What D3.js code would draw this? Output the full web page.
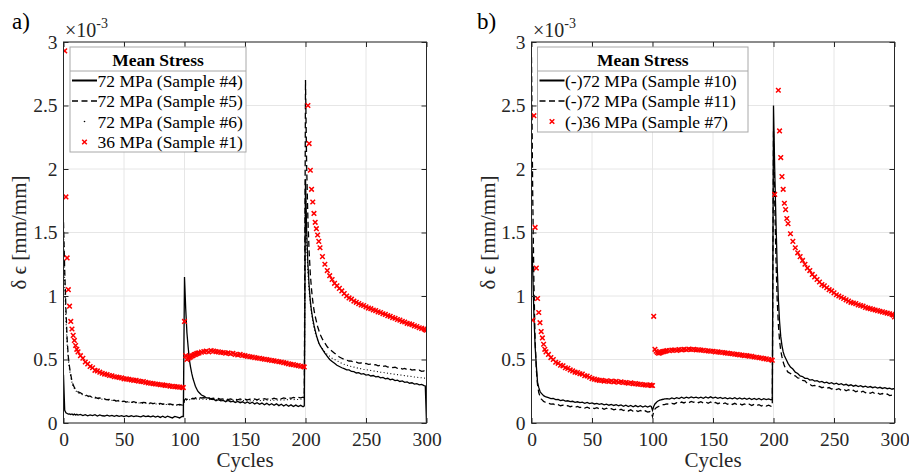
<!DOCTYPE html>
<html>
<head>
<meta charset="utf-8">
<script src="https://cdn.jsdelivr.net/npm/d3@7"></script>
<style>
  body { margin: 0; background: #fff; }
  svg { display: block; }
  text { font-family: "Liberation Serif", "Times New Roman", "DejaVu Serif", serif; }
</style>
</head>
<body>
<script>
// cycle index shared by every series (dense near the jumps, every 2nd cycle elsewhere)
var cycles = [
  0,1,2,3,4,5,6,7,8,9,10,11,12,
  14,16,18,20,22,24,26,28,30,32,
  34,36,38,40,42,44,46,48,50,52,
  54,56,58,60,62,64,66,68,70,72,
  74,76,78,80,82,84,86,88,90,92,
  94,96,98,99,
  100,101,102,103,104,105,106,107,108,109,110,111,112,
  114,116,118,120,122,124,126,128,130,132,
  134,136,138,140,142,144,146,148,150,152,
  154,156,158,160,162,164,166,168,170,172,
  174,176,178,180,182,184,186,188,190,192,
  194,196,198,199,
  200,201,202,203,204,205,206,207,208,209,210,211,212,
  214,216,218,220,222,224,226,228,230,232,
  234,236,238,240,242,244,246,248,250,252,
  254,256,258,260,262,264,266,268,270,272,
  274,276,278,280,282,284,286,288,290,292,
  294,296,298,299,300
];

var xTicks = [0, 50, 100, 150, 200, 250, 300];
var yTicks = [0, 0.5, 1, 1.5, 2, 2.5, 3];
var yTickLabels = ['0', '0.5', '1', '1.5', '2', '2.5', '3'];

// panel a) values in units of 1e-3 mm/mm
var a_s4 = [
  0.38,0.10,0.08,0.075,0.07,0.072,0.066,0.071,0.064,0.07,0.063,0.068,0.062,
  0.067,0.058,0.066,0.057,0.064,0.058,0.065,0.055,0.063,0.057,
  0.055,0.062,0.054,0.06,0.052,0.059,0.053,0.058,0.05,0.057,
  0.051,0.057,0.05,0.056,0.053,0.048,0.057,0.051,0.055,0.049,
  0.055,0.046,0.054,0.044,0.053,0.043,0.054,0.047,0.04,0.052,
  0.046,0.04,0.051,0.05,
  1.15,0.9,0.71,0.6,0.5,0.44,0.39,0.35,0.32,0.29,0.27,0.25,0.24,
  0.22,0.212,0.198,0.197,0.186,0.188,0.176,0.184,0.174,0.178,
  0.168,0.178,0.166,0.171,0.162,0.17,0.16,0.167,0.155,0.165,
  0.153,0.163,0.15,0.16,0.147,0.157,0.144,0.155,0.142,0.152,
  0.14,0.151,0.137,0.148,0.134,0.146,0.132,0.143,0.13,0.141,
  0.129,0.139,0.128,0.135,
  1.92,1.5,1.25,1.08,0.96,0.88,0.82,0.77,0.73,0.69,0.66,0.63,0.61,
  0.58,0.55,0.525,0.5,0.485,0.47,0.455,0.445,0.435,0.428,
  0.418,0.418,0.406,0.404,0.394,0.396,0.385,0.388,0.377,0.381,
  0.37,0.374,0.364,0.366,0.356,0.359,0.348,0.352,0.341,0.345,
  0.334,0.338,0.327,0.331,0.32,0.324,0.313,0.317,0.306,0.31,
  0.3,0.304,0.295,0.292,0.0
];
var a_s5 = [
  1.58,1.2,0.9,0.66,0.52,0.44,0.38,0.33,0.3,0.28,0.265,0.255,0.245,
  0.238,0.226,0.224,0.212,0.212,0.202,0.203,0.195,0.197,0.188,
  0.19,0.183,0.186,0.178,0.18,0.173,0.178,0.17,0.172,0.165,
  0.17,0.163,0.168,0.16,0.165,0.158,0.162,0.16,0.154,0.158,
  0.153,0.156,0.15,0.155,0.148,0.153,0.146,0.151,0.144,0.149,
  0.143,0.147,0.141,0.145,
  0.18,0.19,0.185,0.19,0.188,0.192,0.19,0.195,0.19,0.198,0.193,0.195,0.2,
  0.197,0.2,0.193,0.198,0.191,0.196,0.188,0.194,0.187,0.19,
  0.192,0.184,0.19,0.183,0.188,0.182,0.189,0.181,0.187,0.182,
  0.188,0.181,0.189,0.183,0.19,0.184,0.192,0.186,0.193,0.187,
  0.195,0.188,0.197,0.19,0.198,0.192,0.2,0.194,0.202,0.196,
  0.203,0.198,0.204,0.2,
  2.7,2.0,1.6,1.35,1.17,1.05,0.96,0.89,0.84,0.8,0.76,0.73,0.7,
  0.66,0.63,0.6,0.58,0.565,0.55,0.535,0.52,0.51,0.5,
  0.495,0.488,0.487,0.478,0.48,0.472,0.474,0.466,0.469,0.462,
  0.464,0.456,0.459,0.45,0.454,0.445,0.449,0.44,0.444,0.436,
  0.439,0.43,0.434,0.425,0.43,0.42,0.425,0.416,0.42,0.412,
  0.416,0.406,0.41,0.402,0.4
];
var a_s6 = [
  1.5,1.1,0.82,0.62,0.5,0.42,0.36,0.32,0.29,0.27,0.255,0.245,0.238,
  0.228,0.222,0.215,0.21,0.205,0.2,0.196,0.193,0.19,0.187,
  0.185,0.182,0.18,0.178,0.175,0.173,0.172,0.17,0.167,0.166,
  0.164,0.163,0.161,0.16,0.158,0.157,0.156,0.155,0.153,0.152,
  0.151,0.15,0.149,0.148,0.147,0.146,0.145,0.144,0.143,0.142,
  0.141,0.14,0.139,0.138,
  0.17,0.18,0.182,0.185,0.183,0.187,0.185,0.188,0.19,0.187,0.19,0.188,0.19,
  0.186,0.188,0.185,0.186,0.183,0.185,0.182,0.183,0.18,0.182,
  0.179,0.18,0.177,0.179,0.176,0.178,0.175,0.177,0.175,0.176,
  0.174,0.176,0.175,0.177,0.176,0.178,0.177,0.179,0.178,0.18,
  0.179,0.181,0.18,0.182,0.181,0.184,0.183,0.185,0.184,0.186,
  0.185,0.187,0.186,0.188,
  1.85,1.4,1.18,1.04,0.94,0.86,0.8,0.75,0.71,0.68,0.65,0.63,0.61,
  0.585,0.56,0.54,0.525,0.51,0.5,0.49,0.48,0.47,0.462,
  0.455,0.45,0.445,0.44,0.435,0.43,0.427,0.423,0.42,0.417,
  0.413,0.41,0.407,0.404,0.4,0.398,0.395,0.392,0.389,0.386,
  0.384,0.381,0.378,0.376,0.373,0.37,0.368,0.365,0.362,0.36,
  0.358,0.356,0.354,0.352,0.35
];
var a_s1 = [
  null,2.93,1.78,1.30,1.05,0.92,0.80,0.74,0.69,0.65,0.61,0.58,0.56,
  0.53,0.51,0.48,0.465,0.445,0.435,0.415,0.41,0.4,0.392,
  0.385,0.382,0.374,0.372,0.364,0.362,0.358,0.355,0.348,0.347,
  0.344,0.34,0.336,0.336,0.33,0.327,0.326,0.32,0.316,0.313,
  0.31,0.307,0.305,0.301,0.3,0.296,0.295,0.29,0.289,0.286,
  0.285,0.282,0.28,0.279,
  0.80,0.53,0.50,0.51,0.515,0.52,0.528,0.53,0.538,0.54,0.546,0.55,0.552,
  0.558,0.562,0.566,0.56,0.57,0.566,0.562,0.56,0.556,0.555,
  0.55,0.552,0.545,0.549,0.54,0.536,0.54,0.532,0.53,0.525,
  0.522,0.52,0.515,0.512,0.51,0.506,0.502,0.5,0.496,0.492,
  0.49,0.486,0.482,0.48,0.475,0.472,0.466,0.462,0.46,0.455,
  0.452,0.447,0.445,0.441,
  null,null,2.50,2.20,1.99,1.84,1.74,1.65,1.58,1.53,1.48,1.43,1.38,
  1.31,1.25,1.20,1.16,1.13,1.10,1.08,1.06,1.04,1.02,
  1.0,0.985,0.975,0.96,0.95,0.94,0.93,0.925,0.915,0.905,
  0.9,0.89,0.885,0.875,0.87,0.86,0.855,0.845,0.84,0.83,
  0.825,0.815,0.81,0.8,0.795,0.785,0.78,0.775,0.765,0.76,
  0.75,0.745,0.74,0.735,0.73
];

// panel b)
var b_s10 = [
  1.52,1.2,0.85,0.6,0.45,0.32,0.28,0.25,0.235,0.225,0.215,0.21,0.205,
  0.2,0.192,0.193,0.184,0.185,0.177,0.181,0.172,0.175,0.168,
  0.171,0.163,0.167,0.16,0.164,0.155,0.162,0.153,0.158,0.15,
  0.155,0.147,0.152,0.143,0.149,0.14,0.147,0.138,0.144,0.136,
  0.142,0.132,0.14,0.13,0.138,0.128,0.137,0.127,0.136,0.126,
  0.135,0.125,0.134,0.13,
  0.1,0.13,0.15,0.16,0.17,0.175,0.18,0.183,0.185,0.187,0.19,0.19,0.192,
  0.188,0.197,0.19,0.2,0.193,0.203,0.195,0.204,0.196,0.205,
  0.198,0.204,0.196,0.203,0.195,0.205,0.197,0.206,0.196,0.203,
  0.194,0.202,0.192,0.2,0.19,0.198,0.19,0.199,0.189,0.197,
  0.188,0.196,0.186,0.195,0.185,0.194,0.184,0.193,0.183,0.191,
  0.184,0.19,0.183,0.186,
  2.5,2.0,1.6,1.25,0.98,0.8,0.68,0.61,0.56,0.53,0.51,0.49,0.47,
  0.44,0.425,0.4,0.39,0.37,0.366,0.352,0.352,0.338,0.342,
  0.33,0.334,0.322,0.328,0.316,0.322,0.31,0.318,0.306,0.313,
  0.302,0.309,0.298,0.305,0.294,0.301,0.29,0.297,0.287,0.294,
  0.284,0.29,0.281,0.287,0.278,0.284,0.275,0.281,0.272,0.278,
  0.27,0.275,0.266,0.27,0.268
];
var b_s11 = [
  2.88,1.8,1.1,0.65,0.42,0.3,0.24,0.21,0.19,0.18,0.17,0.165,0.16,
  0.155,0.148,0.15,0.141,0.145,0.136,0.141,0.132,0.137,0.128,
  0.133,0.124,0.13,0.121,0.127,0.118,0.125,0.116,0.122,0.113,
  0.12,0.111,0.118,0.108,0.116,0.106,0.113,0.104,0.11,0.1,
  0.108,0.098,0.106,0.095,0.104,0.093,0.102,0.09,0.099,0.088,
  0.096,0.086,0.09,0.08,
  0.05,0.09,0.11,0.12,0.125,0.13,0.135,0.14,0.14,0.145,0.145,0.148,0.15,
  0.146,0.155,0.15,0.16,0.154,0.165,0.158,0.168,0.16,0.17,
  0.163,0.17,0.16,0.168,0.158,0.166,0.155,0.165,0.153,0.162,
  0.152,0.16,0.15,0.158,0.148,0.157,0.146,0.155,0.144,0.152,
  0.142,0.15,0.14,0.148,0.138,0.146,0.136,0.144,0.134,0.142,
  0.133,0.14,0.132,0.135,
  2.3,1.75,1.3,0.98,0.78,0.65,0.57,0.52,0.48,0.45,0.43,0.415,0.4,
  0.39,0.375,0.372,0.355,0.352,0.335,0.332,0.31,0.305,0.292,
  0.296,0.283,0.288,0.278,0.284,0.273,0.279,0.268,0.275,0.263,
  0.27,0.258,0.266,0.254,0.262,0.25,0.258,0.246,0.254,0.242,
  0.25,0.238,0.246,0.234,0.242,0.23,0.237,0.226,0.232,0.222,
  0.228,0.216,0.22,0.21,0.205
];
var b_s7 = [
  null,0.81,2.42,1.54,1.22,0.98,0.87,0.79,0.72,0.67,0.62,0.58,0.56,
  0.54,0.515,0.5,0.478,0.47,0.455,0.45,0.435,0.43,0.418,
  0.41,0.4,0.397,0.388,0.385,0.372,0.37,0.36,0.35,0.345,
  0.34,0.336,0.335,0.33,0.333,0.327,0.33,0.324,0.328,0.321,
  0.325,0.319,0.318,0.313,0.316,0.31,0.31,0.306,0.305,0.301,
  0.3,0.297,0.3,0.295,
  0.295,0.84,0.58,0.565,0.555,0.55,0.552,0.555,0.56,0.562,0.565,0.567,0.57,
  0.57,0.574,0.575,0.572,0.578,0.576,0.58,0.577,0.582,0.579,
  0.58,0.576,0.577,0.574,0.573,0.569,0.568,0.565,0.565,0.56,
  0.56,0.557,0.555,0.552,0.55,0.547,0.545,0.541,0.54,0.536,
  0.535,0.531,0.53,0.526,0.525,0.52,0.518,0.514,0.512,0.507,
  0.505,0.5,0.498,0.494,
  null,1.80,null,null,2.62,2.30,2.09,1.94,1.84,1.73,1.68,1.61,1.57,
  1.49,1.43,1.38,1.34,1.31,1.28,1.25,1.22,1.2,1.17,
  1.15,1.13,1.11,1.09,1.08,1.065,1.05,1.04,1.025,1.01,
  1.0,0.99,0.98,0.97,0.96,0.95,0.945,0.94,0.93,0.925,
  0.92,0.91,0.905,0.9,0.895,0.89,0.885,0.88,0.875,0.87,
  0.865,0.86,0.855,0.85,0.835
];

var legendA = ['72 MPa (Sample #4)', '72 MPa (Sample #5)', '72 MPa (Sample #6)', '36 MPa (Sample #1)'];
var legendB = ['(-)72 MPa (Sample #10)', '(-)72 MPa (Sample #11)', '(-)36 MPa (Sample #7)'];

var width = 909, height = 475;
var plot_top = 42, plot_bottom = 423;
var ink = '#262626';
var grid_color = '#e6e6e6';
var red = '#f00';
var mk = 2.3;

var dash_styles = { solid: null, dashed: '6,3.5', dotted: '1,2.4' };

var svg = d3.select('body')
    .append('svg')
    .attr('width', width)
    .attr('height', height);

function to_points(vals, name) {
    if (vals.length !== cycles.length) {
        throw new Error(name + ' has ' + vals.length + ' values, expected ' + cycles.length);
    }
    return cycles.map(function(c, i) { return { c: c, v: vals[i] }; });
}

function cross(cx, cy) {
    return 'M' + (cx - mk) + ',' + (cy - mk) + 'L' + (cx + mk) + ',' + (cy + mk) +
           'M' + (cx - mk) + ',' + (cy + mk) + 'L' + (cx + mk) + ',' + (cy - mk);
}

function draw_panel(p) {
    var x = d3.scaleLinear().domain([0, 300]).range([p.left, p.right]);
    var y = d3.scaleLinear().domain([0, 3]).range([plot_bottom, plot_top]);

    var g = svg.append('g').attr('id', 'panel_' + p.id);

    g.append('clipPath')
        .attr('id', 'clip_' + p.id)
        .append('rect')
        .attr('x', p.left).attr('y', plot_top)
        .attr('width', p.right - p.left).attr('height', plot_bottom - plot_top);

    // grid
    var grid = g.append('g').attr('id', 'grid_' + p.id);
    grid.selectAll('line.vgrid').data(xTicks).enter()
        .append('line')
        .attr('x1', function(d) { return x(d); })
        .attr('x2', function(d) { return x(d); })
        .attr('y1', plot_top).attr('y2', plot_bottom)
        .attr('stroke', grid_color).attr('stroke-width', 1);
    grid.selectAll('line.hgrid').data(yTicks).enter()
        .append('line')
        .attr('y1', function(d) { return y(d); })
        .attr('y2', function(d) { return y(d); })
        .attr('x1', p.left).attr('x2', p.right)
        .attr('stroke', grid_color).attr('stroke-width', 1);

    var marks = g.append('g').attr('clip-path', 'url(#clip_' + p.id + ')');

    var line = d3.line()
        .defined(function(d) { return d.v !== null; })
        .x(function(d) { return x(d.c); })
        .y(function(d) { return y(d.v); });

    p.series.forEach(function(s) {
        var pts = to_points(s.values, s.name);
        if (s.style === 'marker') {
            marks.append('g').selectAll('path')
                .data(pts.filter(function(d) { return d.v !== null; }))
                .enter()
                .append('path')
                .attr('d', function(d) { return cross(x(d.c), y(d.v)); })
                .attr('stroke', red)
                .attr('stroke-width', 1.5)
                .attr('fill', 'none');
        } else {
            marks.append('path')
                .datum(pts)
                .attr('d', line)
                .attr('fill', 'none')
                .attr('stroke', '#000')
                .attr('stroke-width', s.style === 'dotted' ? 1.1 : 1.3)
                .attr('stroke-dasharray', dash_styles[s.style]);
        }
    });

    // axes, ticks pointing inwards on all four sides
    var left_axis = g.append('g')
        .attr('transform', 'translate(' + p.left + ',0)')
        .call(d3.axisLeft(y).tickValues(yTicks)
            .tickFormat(function(d, i) { return yTickLabels[i]; })
            .tickSize(-5).tickSizeOuter(0).tickPadding(6));
    var bottom_axis = g.append('g')
        .attr('transform', 'translate(0,' + plot_bottom + ')')
        .call(d3.axisBottom(x).tickValues(xTicks).tickSize(-5).tickSizeOuter(0).tickPadding(9));
    var right_axis = g.append('g')
        .attr('transform', 'translate(' + p.right + ',0)')
        .call(d3.axisRight(y).tickValues(yTicks).tickFormat('').tickSize(-5).tickSizeOuter(0));
    var top_axis = g.append('g')
        .attr('transform', 'translate(0,' + plot_top + ')')
        .call(d3.axisTop(x).tickValues(xTicks).tickFormat('').tickSize(-5).tickSizeOuter(0));

    [left_axis, bottom_axis, right_axis, top_axis].forEach(function(a) {
        a.attr('color', ink)
         .attr('font-family', '"Liberation Serif", "Times New Roman", serif')
         .attr('font-size', 19.5);
        a.select('.domain').remove();
    });

    g.append('rect')
        .attr('x', p.left).attr('y', plot_top)
        .attr('width', p.right - p.left).attr('height', plot_bottom - plot_top)
        .attr('fill', 'none').attr('stroke', ink).attr('stroke-width', 1);

    // exponent label
    var ex = g.append('text')
        .attr('x', p.left + 1.5).attr('y', 37)
        .attr('font-size', 20).attr('fill', ink);
    ex.append('tspan').text('\u00d710');
    ex.append('tspan').attr('font-size', 14).attr('dy', -9).text('-3');

    // axis titles
    g.append('text')
        .attr('transform', 'translate(' + p.ylabel_x + ',' + ((plot_top + plot_bottom) / 2) + ') rotate(-90)')
        .attr('text-anchor', 'middle')
        .attr('dy', '0.35em')
        .attr('font-size', 21)
        .attr('fill', ink)
        .text('\u03b4 \u03f5 [mm/mm]');

    g.append('text')
        .attr('x', (p.left + p.right) / 2).attr('y', 467)
        .attr('text-anchor', 'middle')
        .attr('font-size', 21)
        .attr('fill', ink)
        .text('Cycles');

    g.append('text')
        .attr('x', p.tag_x).attr('y', 29)
        .attr('font-size', 23)
        .attr('fill', '#000')
        .text(p.tag);

    // legend
    var L = p.legend;
    var lg = g.append('g').attr('id', 'legend_' + p.id);
    lg.append('rect')
        .attr('x', L.x0).attr('y', 47)
        .attr('width', L.x1 - L.x0).attr('height', L.y1 - 47)
        .attr('fill', '#fff').attr('stroke', '#a8a8a8').attr('stroke-width', 1);
    lg.append('line')
        .attr('x1', L.x0).attr('x2', L.x1).attr('y1', 71).attr('y2', 71)
        .attr('stroke', '#a8a8a8').attr('stroke-width', 1);
    lg.append('text')
        .attr('x', (L.x0 + L.x1) / 2).attr('y', 60).attr('dy', '0.35em')
        .attr('text-anchor', 'middle')
        .attr('font-weight', 'bold')
        .attr('font-size', 17.5)
        .attr('fill', '#000')
        .text('Mean Stress');

    L.labels.forEach(function(label, i) {
        var s = p.series[i];
        var yy = 80.5 + i * 20.5;
        var sx0 = L.x0 + 2, sx1 = L.x0 + 27;
        if (s.style === 'marker') {
            lg.append('path')
                .attr('d', cross((sx0 + sx1) / 2, yy))
                .attr('stroke', red).attr('stroke-width', 1.5);
        } else if (s.style === 'dotted') {
            lg.append('circle')
                .attr('cx', (sx0 + sx1) / 2).attr('cy', yy).attr('r', 0.8)
                .attr('fill', '#000');
        } else {
            lg.append('line')
                .attr('x1', sx0).attr('x2', sx1).attr('y1', yy).attr('y2', yy)
                .attr('stroke', '#000').attr('stroke-width', s.style === 'solid' ? 2 : 1.6)
                .attr('stroke-dasharray', dash_styles[s.style]);
        }
        lg.append('text')
            .attr('x', sx1 + 0.5).attr('y', yy).attr('dy', '0.35em')
            .attr('font-size', 17.5)
            .attr('fill', '#000')
            .text(label);
    });
}

draw_panel({
    id: 'a', tag: 'a)', tag_x: 12, left: 63.5, right: 426.5, ylabel_x: 19,
    series: [
        { name: 'a_s4', values: a_s4, style: 'solid' },
        { name: 'a_s5', values: a_s5, style: 'dashed' },
        { name: 'a_s6', values: a_s6, style: 'dotted' },
        { name: 'a_s1', values: a_s1, style: 'marker' }
    ],
    legend: { x0: 70, x1: 246, y1: 152, labels: legendA }
});

draw_panel({
    id: 'b', tag: 'b)', tag_x: 477, left: 531.5, right: 894.5, ylabel_x: 488,
    series: [
        { name: 'b_s10', values: b_s10, style: 'solid' },
        { name: 'b_s11', values: b_s11, style: 'dashed' },
        { name: 'b_s7', values: b_s7, style: 'marker' }
    ],
    legend: { x0: 537.5, x1: 748, y1: 132, labels: legendB }
});
</script>
</body>
</html>
